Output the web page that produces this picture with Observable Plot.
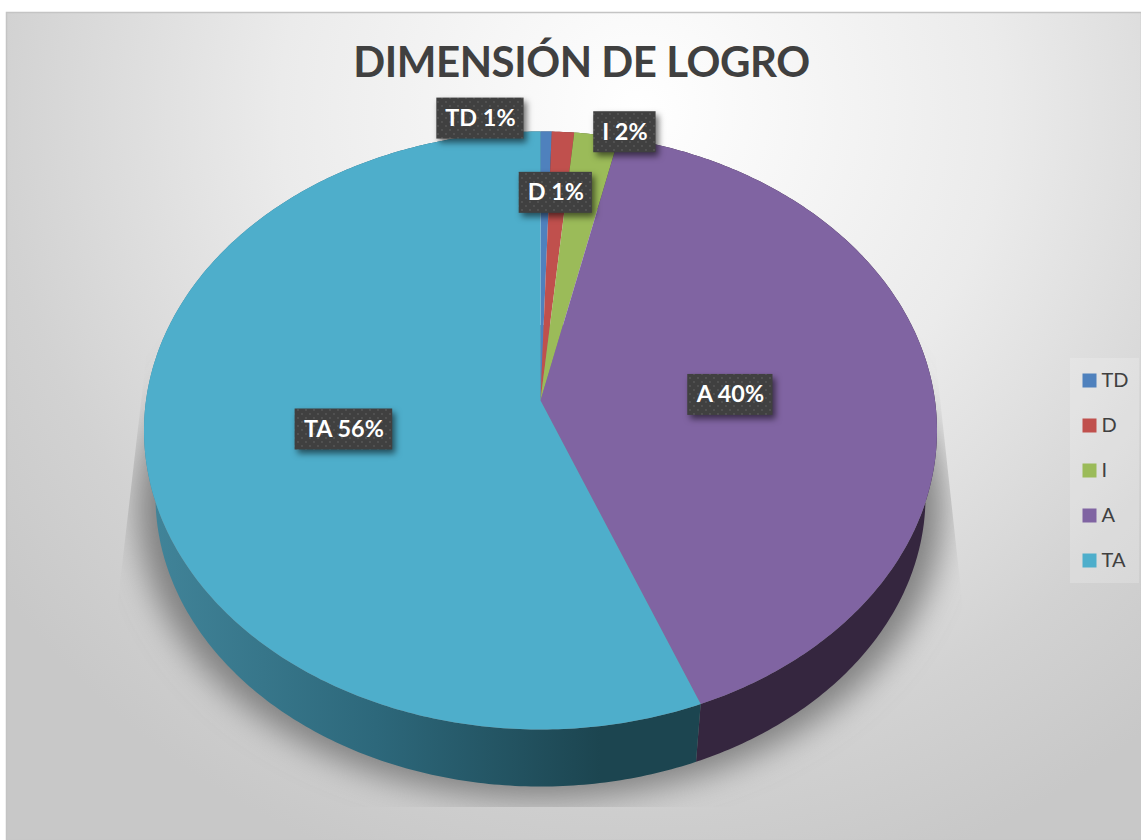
<!DOCTYPE html>
<html>
<head>
<meta charset="utf-8">
<script src="https://cdn.jsdelivr.net/npm/d3@7"></script>
<script src="https://cdn.jsdelivr.net/npm/@observablehq/plot@0.6"></script>
<style>html,body{margin:0;padding:0;background:#fff}svg{display:block}</style>
</head>
<body>
<div id="chart"></div>
<script>
// --- data ---
const chartTitle = "DIMENSIÓN DE LOGRO";
const categories = ["TD", "D", "I", "A", "TA"];
const sliceShares = [0.5, 1.0, 2.0, 40.5, 56];   // widths
const labelPercents = [1, 1, 2, 40, 56];         // percentages printed on the labels
const sliceColors = ["#4f81bd", "#c0504d", "#9bbb59", "#8064a2", "#4eaecb"];
const sideColors = ["#2a4566", "#662b29", "#536430", "#35263f", "url(#sideTA)"];
const labelDx = [-63, 3.5, 55, -6, -1];
const labelDy = [-141, -67, -129, 6, 1];

// --- tilted-disc projection (unit circle -> page units) ---
const cx = 540, apexY = 400, rx0 = 394.5, ry0 = 296, k = 0.1003;
const depthShift = 66, depthScaleX = 0.971, depthScaleY = 0.97, midY = 430;
function topPoint(theta, r = 1) {
  const u = r * Math.sin(theta), v = -r * Math.cos(theta), w = 1 - k * v;
  return [cx + rx0 * u / w, apexY + ry0 * v / w];
}
function bottomPoint(theta) {
  const [x, y] = topPoint(theta);
  return [cx + (x - cx) * depthScaleX, midY + depthShift + (y - midY) * depthScaleY];
}
const pieLayout = d3.pie().sort(null).value(d => d)(sliceShares);
const slices = categories.map((c, i) => ({
  category: c, index: i, a0: pieLayout[i].startAngle, a1: pieLayout[i].endAngle,
  label: `${c} ${labelPercents[i]}%`
}));
const arcPoints = (s, fn) => {
  const n = Math.max(2, Math.ceil((s.a1 - s.a0) * 80));
  return d3.range(n + 1).map(j => fn(s.a0 + (s.a1 - s.a0) * j / n));
};
const topFaces = slices.flatMap(s =>
  [[cx, apexY], ...arcPoints(s, topPoint)].map(([x, y]) => ({x, y, category: s.category})));
const sideFaces = slices.map(s =>
  [...arcPoints(s, topPoint), ...arcPoints(s, bottomPoint).reverse()].map(([x, y]) => ({x, y})));
const shadowRing = d3.range(0, 361, 2).map(a => {
  const [x, y] = bottomPoint(a * Math.PI / 180);
  return {x: cx + (x - cx) * 1.045, y: y + 12};
});

// --- labels ---
const ctx = document.createElement("canvas").getContext("2d");
ctx.font = "bold 23.4px Lato";
const labelRows = slices.map(s => {
  const mid = (s.a0 + s.a1) / 2;
  const [x0, y0] = topPoint(mid, 0.5);
  const x = x0 + labelDx[s.index], y = y0 + labelDy[s.index];
  const w = ctx.measureText(s.label).width + 17;
  return {label: s.label, x, y, x1: x - w / 2, x2: x + w / 2, y1: y - 20.5, y2: y + 20.5};
});

// --- legend ---
const legendX = 1089, legendTextX = 1101, legendY0 = 380, legendStep = 45;
const legendRows = categories.map((c, i) => ({category: c, x: legendX, tx: legendTextX, y: legendY0 + i * legendStep}));
const legendBox = [{x1: 1070, x2: 1139, y1: 358, y2: 583}];

const fontStack = "Lato, 'Open Sans', sans-serif";
const plot = Plot.plot({
  width: 1141, height: 840,
  marginLeft: 6, marginTop: 12, marginRight: 0, marginBottom: 0,
  x: {domain: [6, 1141], axis: null},
  y: {domain: [840, 12], axis: null},
  color: {domain: categories, range: sliceColors},
  style: {background: "#fff"},
  marks: [
    Plot.frame({fill: "url(#card)", stroke: "#c4c4c4", strokeWidth: 1.5}),
    Plot.line(shadowRing, {x: "x", y: "y", fill: "#808080", stroke: "none"}),
    ...sideFaces.map((pts, i) =>
      Plot.line(pts, {x: "x", y: "y", fill: sideColors[i], stroke: "none"})),
    Plot.line(topFaces, {x: "x", y: "y", z: "category", fill: "category", stroke: "none", curve: "linear"}),
    Plot.text([chartTitle], {x: () => 581, y: () => 63, text: d => d, fontSize: 42, fontWeight: 700, fontFamily: fontStack, fill: "#404040"}),
    Plot.rect(labelRows, {x1: "x1", x2: "x2", y1: "y1", y2: "y2", fill: "url(#dots)", imageFilter: "drop-shadow(3px 4px 3px rgba(0,0,0,0.55))"}),
    Plot.text(labelRows, {x: "x", y: "y", text: "label", fill: "#fff", fontSize: 23.4, fontWeight: 700, fontFamily: fontStack}),
    Plot.rect(legendBox, {x1: "x1", x2: "x2", y1: "y1", y2: "y2", fill: "#fff", fillOpacity: 0.2}),
    Plot.dot(legendRows, {x: "x", y: "y", symbol: "square", r: 7.9, fill: "category", stroke: "none"}),
    Plot.text(legendRows, {x: "tx", y: "y", text: "category", textAnchor: "start", fontSize: 20, fontFamily: fontStack, fill: "#404040"})
  ]
});

// --- gradients, pattern and shadow clip ---
const svg = d3.select(plot);
svg.select('g[aria-label="text"]').style("letter-spacing", "-0.45px");  // first text mark: the title
const defs = svg.insert("defs", ":first-child");
const cardGrad = defs.append("radialGradient").attr("id", "card")
  .attr("gradientUnits", "userSpaceOnUse").attr("cx", 640).attr("cy", 110).attr("r", 800);
[[0, "#ffffff"], [0.45, "#ebebeb"], [0.8, "#d2d2d2"], [1, "#c8c8c8"]].forEach(([o, c]) =>
  cardGrad.append("stop").attr("offset", o).attr("stop-color", c));
const sideTA = defs.append("linearGradient").attr("id", "sideTA")
  .attr("gradientUnits", "userSpaceOnUse").attr("x1", 150).attr("x2", 600).attr("y1", 0).attr("y2", 0);
[[0, "#418499"], [0.5, "#2d687b"], [1, "#1c4550"]].forEach(([o, c]) =>
  sideTA.append("stop").attr("offset", o).attr("stop-color", c));
const dotPattern = defs.append("pattern").attr("id", "dots").attr("patternUnits", "userSpaceOnUse")
  .attr("width", 8).attr("height", 8);
dotPattern.append("rect").attr("width", 8).attr("height", 8).attr("fill", "#404040");
dotPattern.append("circle").attr("cx", 2).attr("cy", 2).attr("r", 0.9).attr("fill", "#585858");
dotPattern.append("circle").attr("cx", 6).attr("cy", 6).attr("r", 0.9).attr("fill", "#585858");
defs.append("clipPath").attr("id", "shadowClip").append("polygon")
  .attr("points", "150,325 932,325 962,600 962,807 118,807 118,600");
const blur = defs.append("filter").attr("id", "shadowBlur")
  .attr("filterUnits", "userSpaceOnUse").attr("x", 0).attr("y", 0).attr("width", 1141).attr("height", 840);
blur.append("feGaussianBlur").attr("stdDeviation", 16);
const shadowG = svg.select('g[aria-label="line"]');  // first line mark: the shadow
shadowG.attr("filter", "url(#shadowBlur)");
// the clip sits on a wrapper so it cuts the blurred result
const wrapper = document.createElementNS("http://www.w3.org/2000/svg", "g");
wrapper.setAttribute("clip-path", "url(#shadowClip)");
const shadowNode = shadowG.node();
shadowNode.parentNode.insertBefore(wrapper, shadowNode);
wrapper.appendChild(shadowNode);

document.getElementById("chart").appendChild(plot);
</script>
</body>
</html>
